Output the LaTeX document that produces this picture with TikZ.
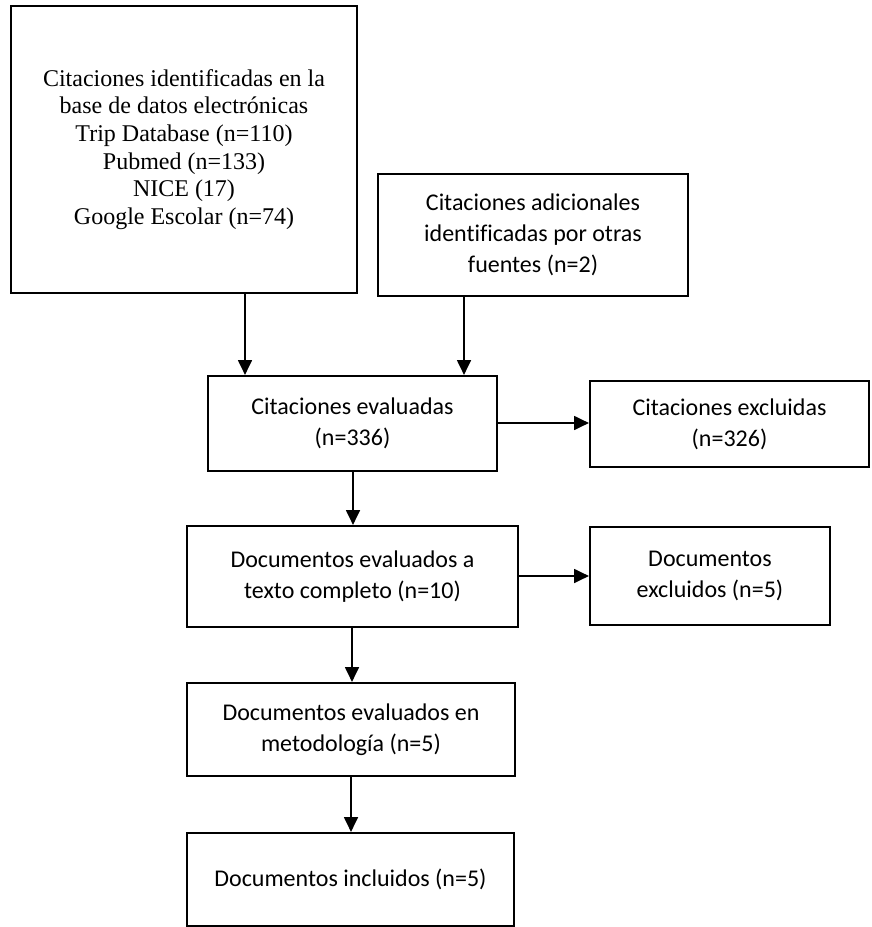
\documentclass[tikz,border=0pt]{standalone}
\usepackage{fontspec}
\setmainfont[Ligatures=NoCommon]{Liberation Serif}
\newfontfamily\calfont[Ligatures=NoCommon]{Carlito}
\usetikzlibrary{arrows.meta}
\tikzset{
  boxstyle/.style={draw=black, line width=1.7pt, fill=white, align=center, inner sep=0pt},
  serifbox/.style={boxstyle, line width=2pt, font=\fontsize{18}{20.7}\selectfont},
  sansbox/.style={boxstyle, font=\calfont\fontsize{18}{23.25}\selectfont},
  arr/.style={draw=black, line width=0.8pt, -{Triangle[width=10.5pt,length=11pt]}}
}
\begin{document}
\begin{tikzpicture}[x=0.75pt,y=-0.75pt]
\useasboundingbox (0,0) rectangle (871,927);
\node[serifbox, minimum width=259.5pt, minimum height=215.25pt] (b1) at (184,149.5)
  {Citaciones identificadas en la\\base de datos electrónicas\\Trip Database (n=110)\\Pubmed (n=133)\\NICE (17)\\Google Escolar (n=74)};
\node[sansbox, minimum width=232.5pt, minimum height=91.5pt] (b2) at (533,235)
  {Citaciones adicionales\\identificadas por otras\\fuentes (n=2)};
\node[sansbox, minimum width=216.75pt, minimum height=71.25pt] (b3) at (352.5,423.5)
  {Citaciones evaluadas\\(n=336)};
\node[sansbox, minimum width=209.25pt, minimum height=64.5pt] (b4) at (729.5,424)
  {Citaciones excluidas\\(n=326)};
\node[sansbox, minimum width=248.25pt, minimum height=75.75pt] (b5) at (352.5,576.5)
  {Documentos evaluados a\\texto completo (n=10)};
\node[sansbox, minimum width=180pt, minimum height=73.5pt] (b6) at (710,576)
  {Documentos\\excluidos (n=5)};
\node[sansbox, minimum width=246pt, minimum height=69.75pt] (b7) at (351,729.5)
  {Documentos evaluados en\\metodología (n=5)};
\node[sansbox, minimum width=245.25pt, minimum height=69.75pt] (b8) at (350.5,879.5)
  {\raisebox{-2pt}{Documentos incluidos (n=5)}};
\coordinate (c1) at (245,0);
\coordinate (c2) at (464,0);
\coordinate (c3) at (353,0);
\coordinate (c4) at (352,0);
\coordinate (c5) at (351,0);
\coordinate (r3) at (0,423);
\coordinate (r5) at (0,576);
\draw[arr] (c1 |- b1.south) -- (c1 |- b3.north);
\draw[arr] (c2 |- b2.south) -- (c2 |- b3.north);
\draw[arr] (r3 -| b3.east) -- (r3 -| b4.west);
\draw[arr] (c3 |- b3.south) -- (c3 |- b5.north);
\draw[arr] (r5 -| b5.east) -- (r5 -| b6.west);
\draw[arr] (c4 |- b5.south) -- (c4 |- b7.north);
\draw[arr] (c5 |- b7.south) -- (c5 |- b8.north);
\end{tikzpicture}
\end{document}
